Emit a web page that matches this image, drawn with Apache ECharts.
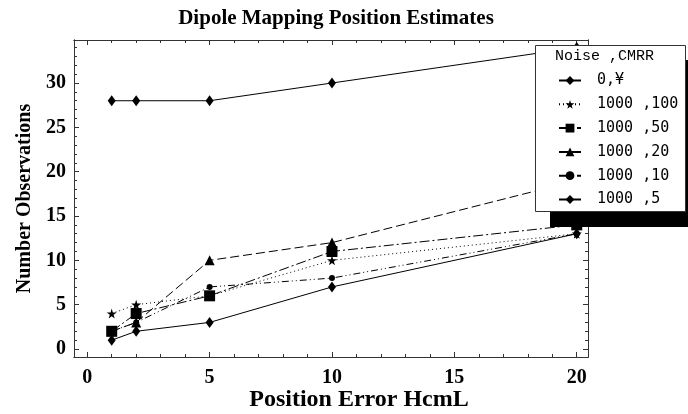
<!DOCTYPE html>
<html>
<head>
<meta charset="utf-8">
<script src="https://cdn.jsdelivr.net/npm/echarts@6/dist/echarts.min.js"></script>
<style>
html,body{margin:0;padding:0;background:#fff;}
#chart{width:688px;height:414px;}
</style>
</head>
<body>
<div id="chart"></div>
<script>
// ---- data ----
const xValues = [1, 2, 5, 10, 20];
const seriesNames = ["0,¥", "1000 ,100", "1000 ,50", "1000 ,20", "1000 ,10", "1000 ,5"];
const sInf = [28, 28, 28, 30, 34];
const s100 = [4, 5, 6, 10, 13];
const s50 = [2, 4, 6, 11, 14];
const s20 = [2, 3, 10, 12, 19];
const s10 = [2, 3, 7, 8, 13];
const s5 = [1, 2, 3, 7, 13];
const xTickLabels = [0, 5, 10, 15, 20];
const yTickLabels = [0, 5, 10, 15, 20, 25, 30];
const xMinorTicks = [0,1,2,3,4,5,6,7,8,9,10,11,12,13,14,15,16,17,18,19,20];
const yMinorTicks = [0,1,2,3,4,5,6,7,8,9,10,11,12,13,14,15,16,17,18,19,20,21,22,23,24,25,26,27,28,29,30,31,32,33,34];

const seriesValues = [sInf, s100, s50, s20, s10, s5];
const starPath = "path://M50,0 L61,35 L98,35 L68,57 L79,91 L50,70 L21,91 L32,57 L2,35 L39,35 Z";
const styles = [
  {symbol: 'diamond', size: [8, 11], dash: 'solid'},
  {symbol: starPath, size: 10, dash: [1, 3]},
  {symbol: 'rect', size: 11, dash: [10, 3, 2, 3]},
  {symbol: 'triangle', size: 10, dash: [9, 4]},
  {symbol: 'circle', size: 6, dash: [7, 3, 1, 3, 1, 3]},
  {symbol: 'diamond', size: [8, 11], dash: 'solid'}
];

const XMIN = -0.54, XMAX = 20.46, YMIN = -0.9, YMAX = 34.85;
const axisColor = '#333';
const labelFont = {fontFamily: 'Liberation Serif', fontWeight: 'bold', fontSize: 20, color: '#000'};

function xAx(pos, ticks, len, labels) {
  return {
    type: 'value', position: pos, min: XMIN, max: XMAX,
    axisLine: {show: true, onZero: false, lineStyle: {color: axisColor, width: 1}},
    axisTick: {show: true, inside: true, length: len, customValues: ticks, lineStyle: {color: axisColor}},
    axisLabel: labels ? Object.assign({show: true, customValues: xTickLabels, margin: 11}, labelFont) : {show: false},
    splitLine: {show: false}
  };
}
function yAx(pos, ticks, len, labels) {
  return {
    type: 'value', position: pos, min: YMIN, max: YMAX,
    axisLine: {show: true, onZero: false, lineStyle: {color: axisColor, width: 1}},
    axisTick: {show: true, inside: true, length: len, customValues: ticks, lineStyle: {color: axisColor}},
    axisLabel: labels ? Object.assign({show: true, customValues: yTickLabels, margin: 8}, labelFont) : {show: false},
    splitLine: {show: false}
  };
}

const xAxes = [
  xAx('bottom', xTickLabels, 5, true),
  xAx('bottom', xMinorTicks, 3, false),
  xAx('top', xTickLabels, 5, false),
  xAx('top', xMinorTicks, 3, false)
];
const yAxes = [
  Object.assign(yAx('left', yTickLabels, 5, true), {
    name: 'Number Observations', nameLocation: 'middle', nameGap: 37, nameRotate: 90,
    nameTextStyle: {fontFamily: 'Liberation Serif', fontWeight: 'bold', fontSize: 20, color: '#000'}
  }),
  yAx('left', yMinorTicks, 3, false),
  yAx('right', yTickLabels, 5, false),
  yAx('right', yMinorTicks, 3, false)
];

const series = seriesNames.map((name, i) => ({
  name: name,
  type: 'line',
  xAxisIndex: 0, yAxisIndex: 0,
  data: xValues.map((x, j) => [x, seriesValues[i][j]]),
  symbol: styles[i].symbol,
  symbolSize: styles[i].size,
  showAllSymbol: true,
  itemStyle: {color: '#000'},
  lineStyle: {color: '#000', width: 1, type: styles[i].dash},
  animation: false,
  z: 3
}));

const chart = echarts.init(document.getElementById('chart'), null, {renderer: 'canvas'});
chart.setOption({
  animation: false,
  backgroundColor: '#fff',
  grid: {left: 74, right: 100, top: 40, bottom: 57, containLabel: false, outerBoundsMode: 'none'},
  xAxis: xAxes,
  yAxis: yAxes,
  series: series,
  legend: {
    orient: 'vertical',
    left: 553, top: 68,
    itemWidth: 22, itemHeight: 11,
    itemGap: 8.8,
    z: 20,
    data: seriesNames,
    textStyle: {fontFamily: 'DejaVu Sans Mono', fontSize: 15, color: '#000', padding: [0, 0, 0, 11]},
    inactiveColor: '#000'
  },
  graphic: [
    {type: 'rect', z: 15, shape: {x: 550, y: 60, width: 150, height: 167}, style: {fill: '#000'}},
    {type: 'rect', z: 16, shape: {x: 535.5, y: 45.5, width: 150, height: 166}, style: {fill: '#fff', stroke: '#333', lineWidth: 1}},
    {type: 'text', z: 17, x: 555, y: 56, style: {text: 'Noise ,CMRR', font: '15px "Liberation Mono"', fill: '#000', textVerticalAlign: 'middle'}},
    {type: 'text', z: 17, x: 336, y: 19, style: {text: 'Dipole Mapping Position Estimates', font: 'bold 21px "Liberation Serif"', fill: '#000', textAlign: 'center', textVerticalAlign: 'middle'}},
    {type: 'text', z: 17, x: 359, y: 400, style: {text: 'Position Error HcmL', font: 'bold 24px "Liberation Serif"', fill: '#000', textAlign: 'center', textVerticalAlign: 'middle'}}
  ]
});
</script>
</body>
</html>
